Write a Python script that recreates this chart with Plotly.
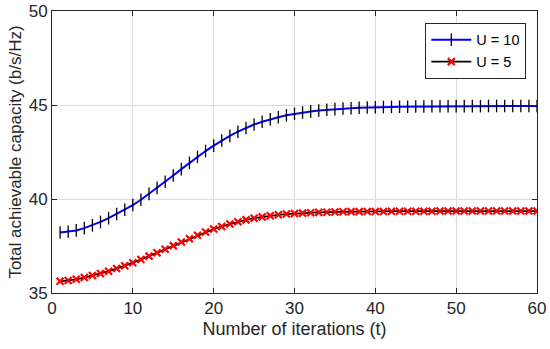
import plotly.graph_objects as go

t = list(range(1, 61))
u10 = [38.22, 38.26, 38.33, 38.45, 38.60, 38.78, 38.98, 39.20, 39.43, 39.68,
       39.96, 40.27, 40.59, 40.92, 41.25, 41.59, 41.92, 42.24, 42.55, 42.84,
       43.11, 43.36, 43.58, 43.78, 43.96, 44.11, 44.24, 44.35, 44.45, 44.53,
       44.60, 44.66, 44.71, 44.75, 44.78, 44.81, 44.83, 44.85, 44.87, 44.88,
       44.89, 44.90, 44.91, 44.91, 44.92, 44.92, 44.93, 44.93, 44.93, 44.94,
       44.94, 44.94, 44.94, 44.95, 44.95, 44.95, 44.95, 44.95, 44.95, 44.95]
u5 = [35.62, 35.66, 35.73, 35.82, 35.93, 36.04, 36.16, 36.30, 36.45, 36.61,
      36.78, 36.96, 37.14, 37.33, 37.52, 37.71, 37.89, 38.07, 38.24, 38.40,
      38.54, 38.67, 38.79, 38.89, 38.98, 39.05, 39.11, 39.16, 39.20, 39.23,
      39.25, 39.27, 39.29, 39.30, 39.31, 39.32, 39.33, 39.33, 39.34, 39.34,
      39.34, 39.35, 39.35, 39.35, 39.35, 39.35, 39.35, 39.36, 39.36, 39.36,
      39.36, 39.36, 39.36, 39.36, 39.36, 39.36, 39.36, 39.36, 39.36, 39.36]
names = ["U = 10", "U = 5"]
x_ticks = [0, 10, 20, 30, 40, 50, 60]
y_ticks = [35, 40, 45, 50]

FONT = "Liberation Sans, Arial, sans-serif"

fig = go.Figure()
fig.add_trace(go.Scatter(
    x=t, y=u10, name=names[0], mode="lines+markers",
    line=dict(color="#0000ff", width=2),
    marker=dict(symbol="line-ns", size=9, color="black",
                line=dict(color="black", width=1.3)),
))
fig.add_trace(go.Scatter(
    x=t, y=u5, name=names[1], mode="lines+markers",
    line=dict(color="black", width=1.8),
    marker=dict(symbol="x-thin", size=7, color="#ff0000",
                line=dict(color="#ff0000", width=2.2)),
))

axis_common = dict(
    showline=True, linecolor="#262626", linewidth=1, mirror="ticks",
    ticks="inside", ticklen=5, tickcolor="#262626",
    showgrid=True, gridcolor="#dcdcdc", gridwidth=1,
    zeroline=False, automargin=False, ticklabeloverflow="allow",
    tickfont=dict(family=FONT, size=17, color="#262626"),
)

fig.update_layout(
    width=550, height=349,
    margin=dict(l=52, r=13, t=11, b=56),
    paper_bgcolor="white", plot_bgcolor="white",
    font=dict(family=FONT, color="#262626"),
    showlegend=True,
    legend=dict(x=0.978, y=0.958, xanchor="right", yanchor="top",
                bordercolor="#262626", borderwidth=1, bgcolor="white",
                font=dict(family=FONT, size=14.5, color="black"),
                tracegroupgap=0, itemwidth=40),
    xaxis=dict(range=[0, 60], tickvals=x_ticks,
               title=dict(text="Number of iterations (t)", font=dict(family=FONT, size=18, color="#262626"), standoff=4),
               **axis_common),
    yaxis=dict(range=[35, 50], tickvals=y_ticks,
               title=dict(text="Total achievable capacity (b/s/Hz)", font=dict(family=FONT, size=17, color="#262626"), standoff=2),
               **axis_common),
)

fig.write_html("out.html", config={"displayModeBar": False},
               post_script="document.body.style.margin='0';document.body.style.overflow='hidden';")
